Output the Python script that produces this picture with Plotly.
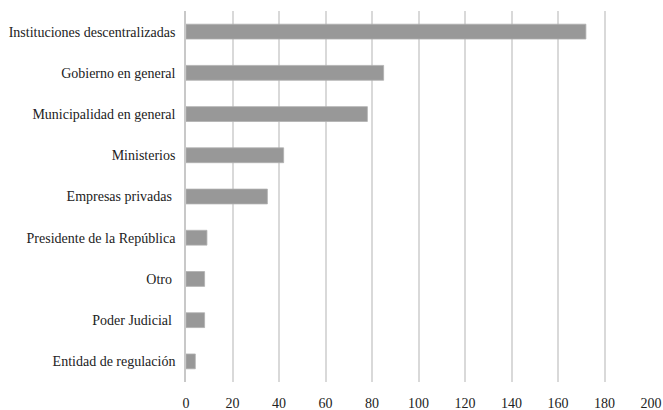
import plotly.graph_objects as go

categorias = [
    "Instituciones descentralizadas",
    "Gobierno en general",
    "Municipalidad en general",
    "Ministerios",
    "Empresas privadas ",
    "Presidente de la República",
    "Otro ",
    "Poder Judicial ",
    "Entidad de regulación",
]
valores = [172, 85, 78, 42, 35, 9, 8, 8, 4]
x_ticks = [0, 20, 40, 60, 80, 100, 120, 140, 160, 180, 200]

fig = go.Figure(
    go.Bar(
        y=categorias,
        x=valores,
        orientation="h",
        marker=dict(color="#989898", line=dict(color="#b0b0b0", width=0.8)),
        width=0.36,
        hoverinfo="x+y",
    )
)

font_family = "Liberation Serif, DejaVu Serif, serif"

fig.update_layout(
    width=663,
    height=410,
    margin=dict(l=186, r=12, t=11, b=28, autoexpand=False),
    paper_bgcolor="white",
    plot_bgcolor="white",
    font=dict(family=font_family, size=14, color="#222222"),
    showlegend=False,
    bargap=0.64,
)
fig.update_xaxes(
    range=[0, 200],
    tickvals=x_ticks,
    ticktext=[str(v) for v in x_ticks],
    showgrid=True,
    gridcolor="#d9d9d9",
    gridwidth=1.5,
    zeroline=False,
    showline=False,
    ticks="",
    ticklabelstandoff=11,
    tickfont=dict(size=14, color="#222222"),
    automargin=False,
    fixedrange=True,
)
fig.update_yaxes(
    autorange="reversed",
    showgrid=False,
    zeroline=False,
    showline=True,
    linecolor="#c8c8c8",
    linewidth=1.5,
    ticks="",
    ticklabelstandoff=6,
    tickfont=dict(size=14, color="#222222"),
    automargin=False,
    fixedrange=True,
)

fig.write_html(
    "out.html",
    config={"displayModeBar": False},
    post_script="document.body.style.margin='0px';document.body.style.overflow='hidden';",
)
